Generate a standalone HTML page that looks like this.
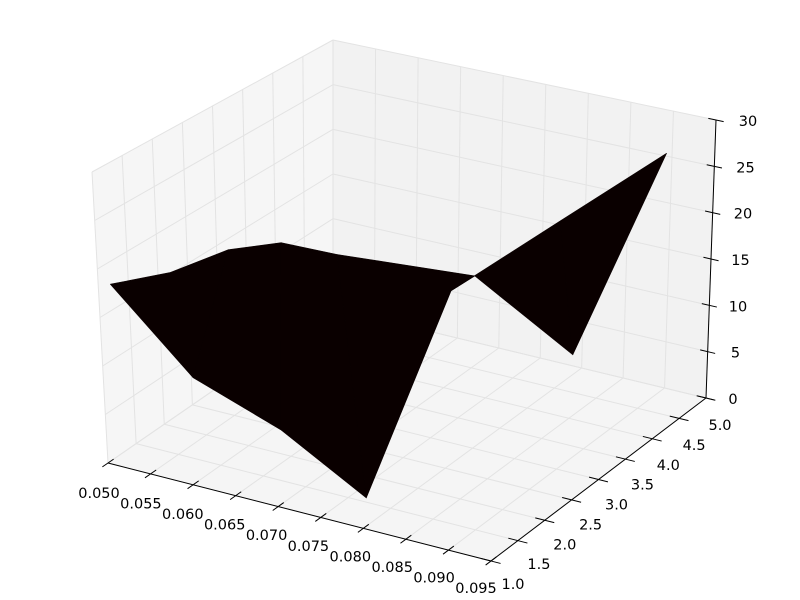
<!DOCTYPE html>
<html><head><meta charset="utf-8"><style>
html,body{margin:0;padding:0;background:#fff;}
svg{display:block;}
text{font-family:"DejaVu Sans","Liberation Sans",sans-serif;font-size:14.5px;fill:#000;}
</style></head>
<body>
<svg id="chart" width="800" height="600" viewBox="0 0 800 600" xmlns="http://www.w3.org/2000/svg">
<g id="panes"></g>
<g id="grid"></g>
<g id="axes"></g>
<g id="surface"></g>
<g id="labels"></g>
</svg>
<script>
// Axis ranges / ticks
const xTicks = [0.050,0.055,0.060,0.065,0.070,0.075,0.080,0.085,0.090,0.095];
const xTickLabels = ["0.050","0.055","0.060","0.065","0.070","0.075","0.080","0.085","0.090","0.095"];
const yTicks = [1.0,1.5,2.0,2.5,3.0,3.5,4.0,4.5,5.0];
const yTickLabels = ["1.0","1.5","2.0","2.5","3.0","3.5","4.0","4.5","5.0"];
const zTicks = [0,5,10,15,20,25,30];
const zTickLabels = ["0","5","10","15","20","25","30"];
// Surface data: two rows of a ribbon mesh
const rowAx = [0.050,0.0605,0.0706,0.0804,0.0903,0.090,0.090];
const rowAy = [1.2,1.0,1.0,1.0,1.0,3.0,4.9];
const rowAz = [17.7,11.0,7.8,3.1,25.4,25.5,25.8];
const rowBx = [0.050,0.050,0.050,0.0505,0.067,0.0789,0.090];
const rowBy = [2.2,3.2,4.1,5.0,5.0,5.0,4.9];
const rowBz = [15.2,13.8,11.0,6.1,7.3,1.2,25.8];

const XMIN=0.05,XMAX=0.095,YMIN=1,YMAX=5,ZMIN=0,ZMAX=30;
const F00=[108,463],F10=[491,561],F11=[706,398],F01=[333,308];
const T00=[92,172],T10=[493,252],T11=[716,120],T01=[333,40];
function bil(P00,P10,P01,P11,a,b){
  return [P00[0]*(1-a)*(1-b)+P10[0]*a*(1-b)+P01[0]*(1-a)*b+P11[0]*a*b,
          P00[1]*(1-a)*(1-b)+P10[1]*a*(1-b)+P01[1]*(1-a)*b+P11[1]*a*b];
}
function projN(a,b,c){
  const f=bil(F00,F10,F01,F11,a,b), t=bil(T00,T10,T01,T11,a,b);
  return [f[0]+c*(t[0]-f[0]), f[1]+c*(t[1]-f[1])];
}
function na(x){return (x-XMIN)/(XMAX-XMIN);}
function nb(y){return (y-YMIN)/(YMAX-YMIN);}
function nc(z){return (z-ZMIN)/(ZMAX-ZMIN);}
function proj(x,y,z){return projN(na(x),nb(y),nc(z));}

const NS="http://www.w3.org/2000/svg";
function mk(tag,parent,attrs){const e=document.createElementNS(NS,tag);for(const k in attrs)e.setAttribute(k,attrs[k]);parent.appendChild(e);return e;}
function pts(arr){return arr.map(p=>p[0].toFixed(1)+","+p[1].toFixed(1)).join(" ");}
function line(parent,p,q,stroke,w){return mk("line",parent,{x1:p[0],y1:p[1],x2:q[0],y2:q[1],stroke:stroke,"stroke-width":w});}

const panes=document.getElementById("panes");
let e;
e=mk("polygon",panes,{points:pts([projN(0,0,0),projN(1,0,0),projN(1,1,0),projN(0,1,0)]),fill:"#f5f5f5"});


e=mk("polygon",panes,{points:pts([projN(0,1,0),projN(1,1,0),projN(1,1,1),projN(0,1,1)]),fill:"#f2f2f2"});


e=mk("polygon",panes,{points:pts([projN(0,0,0),projN(0,1,0),projN(0,1,1),projN(0,0,1)]),fill:"#f6f6f6"});



const grid=document.getElementById("grid");
const GC="#e3e3e3";
xTicks.forEach(x=>{
  const a=na(x);
  e=line(grid,projN(a,0,0),projN(a,1,0),GC,1);
  
  
  e=line(grid,projN(a,1,0),projN(a,1,1),GC,1);
  
  
});
yTicks.forEach(y=>{
  const b=nb(y);
  e=line(grid,projN(0,b,0),projN(1,b,0),GC,1);
  
  
  e=line(grid,projN(0,b,0),projN(0,b,1),GC,1);
  
  
});
zTicks.forEach(z=>{
  const c=nc(z);
  e=line(grid,projN(0,0,c),projN(0,1,c),GC,1);
  
  
  e=line(grid,projN(0,1,c),projN(1,1,c),GC,1);
  
  
});

const axes=document.getElementById("axes");
e=line(axes,projN(0,0,0),projN(1,0,0),"#000",1);


e=line(axes,projN(1,0,0),projN(1,1,0),"#000",1);


e=line(axes,projN(1,1,0),projN(1,1,1),"#000",1);



const labels=document.getElementById("labels");
function label(p,txt,name){
  const t=mk("text",labels,{x:p[0].toFixed(1),y:p[1].toFixed(1),"text-anchor":"middle","dominant-baseline":"central"});
  t.textContent=txt;
  
  
}
xTicks.forEach((x,i)=>{
  const a=na(x);
  e=line(axes,projN(a,-0.025,0),projN(a,0.025,0),"#000",1);
  
  
  const p=projN(a,0,0);
  label([p[0]-9-6*a,p[1]+31-3*a],xTickLabels[i],'x-tick-label');
});
yTicks.forEach((y,i)=>{
  const b=nb(y);
  e=line(axes,projN(0.975,b,0),projN(1.025,b,0),"#000",1);
  
  
  const p=projN(1,b,0);
  label([p[0]+22-8*b,p[1]+24+4*b],yTickLabels[i],'y-tick-label');
});
zTicks.forEach((z,i)=>{
  const c=nc(z);
  e=line(axes,projN(0.98,1,c),projN(1.02,1,c),"#000",1);
  
  
  const p=projN(1,1,c);
  label([p[0]+27+5*c,p[1]+2],zTickLabels[i],'z-tick-label');
});

const surf=document.getElementById("surface");
for(let i=0;i<rowAx.length-1;i++){
  const q=[proj(rowAx[i],rowAy[i],rowAz[i]),proj(rowAx[i+1],rowAy[i+1],rowAz[i+1]),
           proj(rowBx[i+1],rowBy[i+1],rowBz[i+1]),proj(rowBx[i],rowBy[i],rowBz[i])];
  const poly=mk("polygon",surf,{points:pts(q),fill:"#0a0000",stroke:"#0a0000","stroke-width":0.6,"stroke-linejoin":"round"});
  
  
}
</script>
</body></html>
